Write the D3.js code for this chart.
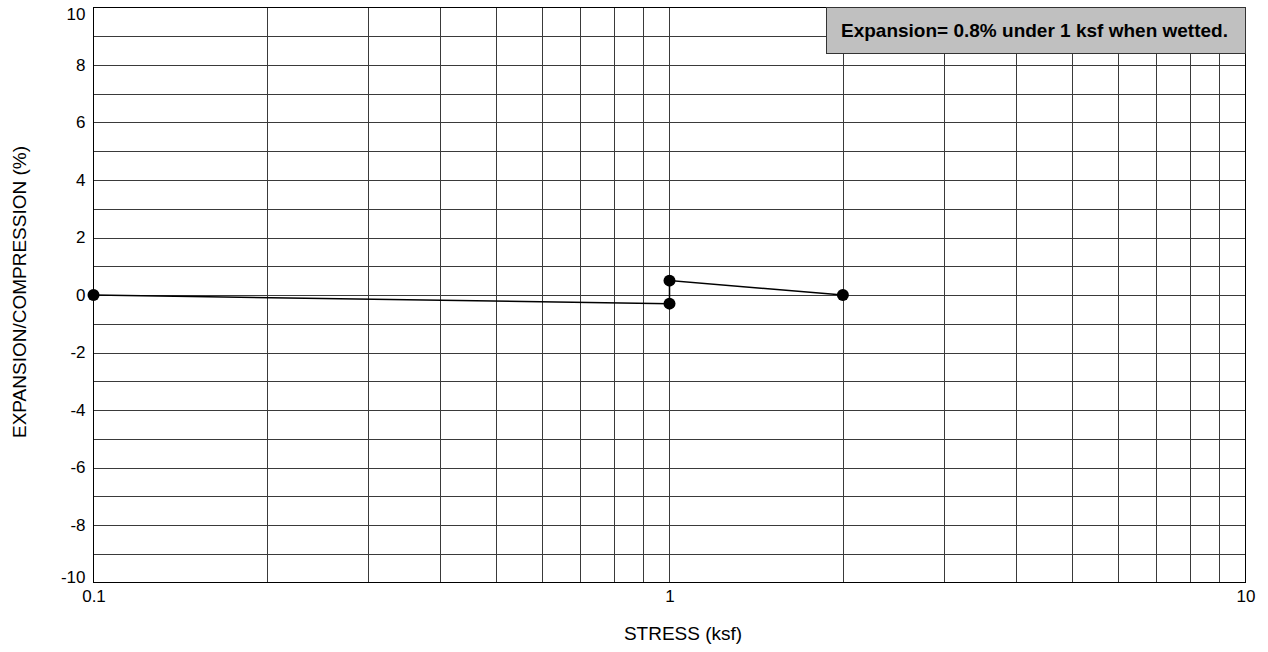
<!DOCTYPE html>
<html>
<head>
<meta charset="utf-8">
<script src="https://cdn.jsdelivr.net/npm/d3@7/dist/d3.min.js"></script>
<style>
  body { margin: 0; background: #fff; }
  text { font-family: "Liberation Sans", Arial, sans-serif; fill: #000; }
</style>
</head>
<body>
<svg id="chart" width="1268" height="652"></svg>
<script>
// Swell/consolidation test readings: stress (ksf) vs. expansion/compression (%)
const stress = [0.1, 1, 1, 2];
const strain = [0, -0.3, 0.5, 0];
const xTicks = [0.1, 1, 10];
const xTickLabels = ["0.1", "1", "10"];
const yTicks = [-10, -8, -6, -4, -2, 0, 2, 4, 6, 8, 10];
const note = "Expansion= 0.8% under 1 ksf when wetted.";

const svg = d3.select("#chart");
const m = { left: 93.5, right: 1245.5, top: 7.5, bottom: 582.5 };
const FONT = "Liberation Sans, Arial, sans-serif";

const x = d3.scaleLog().domain([0.1, 10]).range([m.left, m.right]);
const y = d3.scaleLinear().domain([-10, 10]).range([m.bottom, m.top]);

// Log grid: every integer multiple within each decade
const xGrid = [];
for (let d = 0.1; d < 10; d *= 10) {
  for (let k = 2; k <= 9; k++) xGrid.push(+(d * k).toFixed(3));
}
xGrid.push(1);
const yGrid = d3.range(-9, 10, 1);

const grid = svg.append("g").attr("stroke", "#3a3a3a").attr("stroke-width", 1).attr("shape-rendering", "crispEdges");
grid.selectAll("line.v").data(xGrid).join("line")
  .attr("x1", d => Math.round(x(d)) + 0.5).attr("x2", d => Math.round(x(d)) + 0.5)
  .attr("y1", m.top).attr("y2", m.bottom);
grid.selectAll("line.h").data(yGrid).join("line")
  .attr("y1", d => Math.round(y(d)) + 0.5).attr("y2", d => Math.round(y(d)) + 0.5)
  .attr("x1", m.left).attr("x2", m.right);

// Frame
svg.append("rect")
  .attr("x", m.left).attr("y", m.top)
  .attr("width", m.right - m.left).attr("height", m.bottom - m.top)
  .attr("fill", "none").attr("stroke", "#000").attr("stroke-width", 1)
  .attr("shape-rendering", "crispEdges");

// Axes (labels only; the grid carries the ticks)
const xAxis = d3.axisBottom(x).tickValues(xTicks).tickFormat((d, i) => xTickLabels[i]).tickSize(0).tickPadding(7);
svg.append("g").attr("transform", `translate(0,${m.bottom})`)
  .call(xAxis)
  .attr("font-size", 17).attr("font-family", FONT)
  .call(g => g.select(".domain").remove())
  .call(g => g.selectAll("text").attr("fill", "#000"));

const yAxis = d3.axisLeft(y).tickValues(yTicks).tickFormat(d => String(d)).tickSize(0).tickPadding(8);
svg.append("g").attr("transform", `translate(${m.left},0)`)
  .call(yAxis)
  .attr("font-size", 17).attr("font-family", FONT)
  .call(g => g.select(".domain").remove())
  .call(g => g.selectAll("text").attr("fill", "#000")
    // keep the end labels inside the plot's height
    .attr("dy", d => d === 10 ? "0.72em" : d === -10 ? "0.02em" : "0.32em"));

// Axis titles
svg.append("text")
  .attr("x", 683).attr("y", 640)
  .attr("text-anchor", "middle").attr("font-size", 19)
  .text("STRESS (ksf)");
svg.append("text")
  .attr("transform", `translate(25.5,292) rotate(-90)`)
  .attr("text-anchor", "middle").attr("font-size", 19)
  .text("EXPANSION/COMPRESSION (%)");

// Test curve
const pts = stress.map((s, i) => [s, strain[i]]);
svg.append("path")
  .datum(pts)
  .attr("fill", "none").attr("stroke", "#000").attr("stroke-width", 1.5)
  .attr("d", d3.line().x(d => x(d[0])).y(d => y(d[1])));
svg.selectAll("circle.pt").data(pts).join("circle")
  .attr("cx", d => x(d[0])).attr("cy", d => y(d[1]))
  .attr("r", 6).attr("fill", "#000");

// Note box
const box = svg.append("g");
box.append("rect")
  .attr("x", 826.5).attr("y", m.top)
  .attr("width", m.right - 826.5).attr("height", 46)
  .attr("fill", "#c0c0c0").attr("stroke", "#333").attr("stroke-width", 1)
  .attr("shape-rendering", "crispEdges");
box.append("text")
  .attr("x", 841).attr("y", 37)
  .attr("font-size", 19).attr("font-weight", "bold")
  .text(note);
</script>
</body>
</html>
